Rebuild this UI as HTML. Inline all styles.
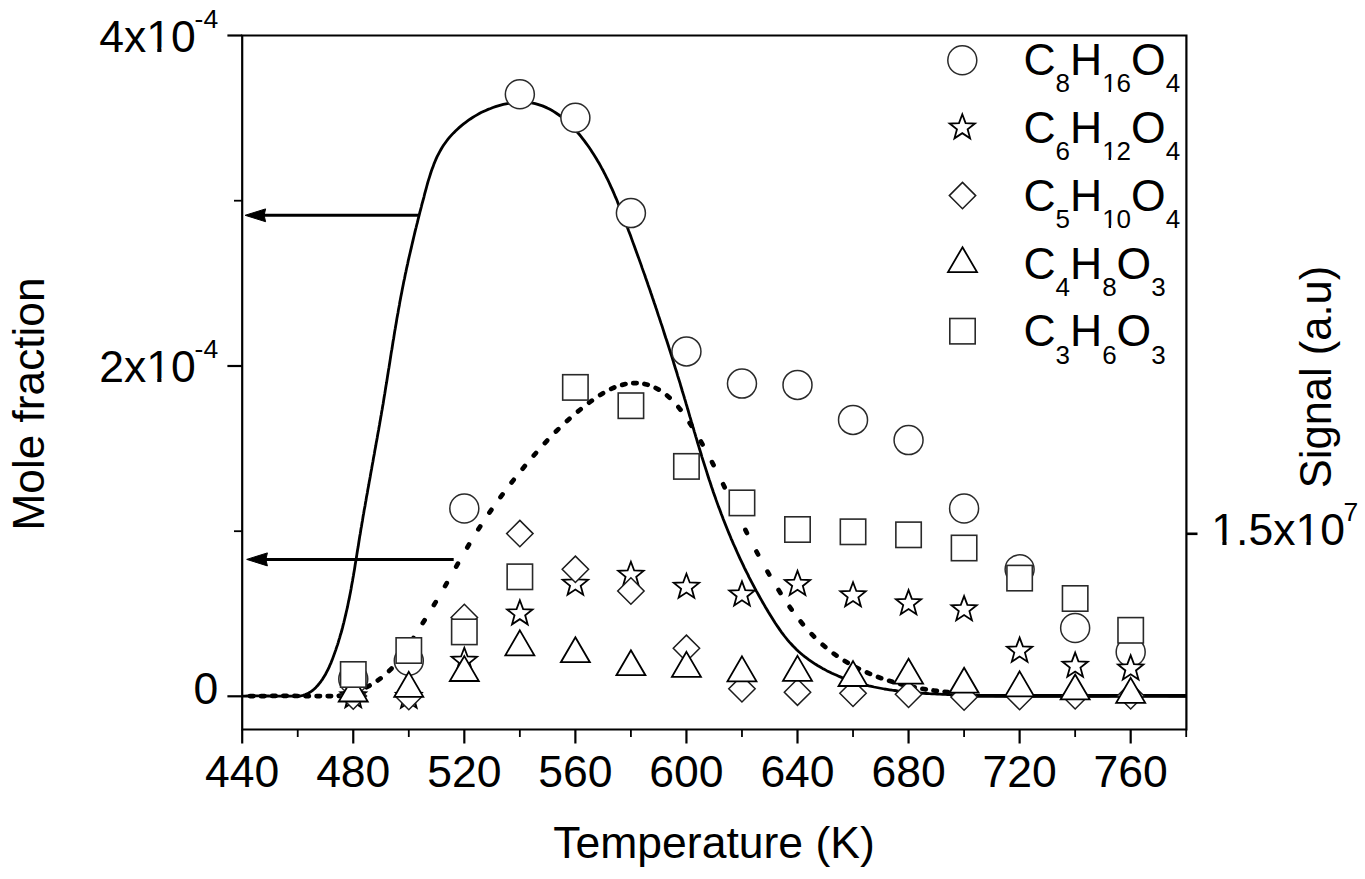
<!DOCTYPE html>
<html><head><meta charset="utf-8"><title>Mole fraction vs Temperature</title>
<style>html,body{margin:0;padding:0;background:#fff;width:1365px;height:879px;overflow:hidden}svg{display:block}text{font-family:"Liberation Sans",sans-serif}</style>
</head><body>
<svg width="1365" height="879" viewBox="0 0 1365 879"><rect width="100%" height="100%" fill="#fff"/><path d="M242.2,696.1L244.9,696.1L247.5,696.0L250.1,696.0L252.8,695.9L255.4,695.9L258.0,695.9L260.7,695.9L263.3,696.0L265.9,696.0L268.6,696.0L271.2,696.1L273.8,696.1L276.5,696.1L279.1,696.1L281.8,696.1L284.5,696.1L287.2,696.1L289.9,696.1L292.6,696.1L295.3,696.1L297.9,696.1L300.5,696.0L303.0,695.4L305.4,694.6L307.7,693.6L309.9,692.3L312.0,690.9L314.0,689.2L315.9,687.4L317.7,685.5L319.4,683.4L321.0,681.3L322.6,679.1L324.0,676.8L325.4,674.5L326.6,672.2L327.8,669.8L329.0,667.4L330.0,665.0L331.1,662.6L332.1,660.1L333.0,657.6L333.9,655.1L334.8,652.6L335.7,650.1L336.5,647.6L337.4,645.1L338.2,642.6L338.9,640.1L339.7,637.6L340.4,635.0L341.2,632.5L341.9,630.0L342.6,627.4L343.2,624.9L343.9,622.3L344.5,619.7L345.1,617.2L345.7,614.6L346.3,612.0L346.9,609.5L347.5,606.9L348.0,604.3L348.5,601.7L349.1,599.2L349.6,596.6L350.1,594.0L350.6,591.4L351.1,588.8L351.5,586.2L352.0,583.6L352.5,581.0L352.9,578.4L353.4,575.8L353.8,573.2L354.3,570.6L354.7,568.0L355.1,565.3L355.5,562.7L356.0,560.1L356.4,557.5L356.8,554.9L357.2,552.3L357.6,549.7L358.1,547.1L358.5,544.5L358.9,541.8L359.3,539.2L359.7,536.6L360.2,534.0L360.6,531.4L361.0,528.8L361.5,526.2L361.9,523.6L362.4,521.0L362.8,518.4L363.2,515.8L363.7,513.2L364.1,510.6L364.6,508.0L365.1,505.4L365.5,502.8L366.0,500.2L366.4,497.6L366.9,495.0L367.4,492.4L367.8,489.8L368.3,487.2L368.8,484.6L369.2,482.0L369.7,479.4L370.2,476.8L370.6,474.2L371.1,471.6L371.6,469.0L372.0,466.4L372.5,463.8L373.0,461.2L373.4,458.6L373.9,456.0L374.4,453.4L374.8,450.8L375.3,448.2L375.8,445.6L376.2,443.0L376.7,440.4L377.2,437.8L377.6,435.2L378.1,432.6L378.6,430.0L379.0,427.4L379.5,424.8L379.9,422.2L380.4,419.6L380.8,417.0L381.3,414.4L381.7,411.8L382.2,409.2L382.6,406.6L383.1,404.0L383.5,401.4L383.9,398.8L384.3,396.2L384.8,393.5L385.2,390.9L385.6,388.3L386.0,385.7L386.5,383.1L386.9,380.5L387.3,377.9L387.7,375.3L388.1,372.7L388.5,370.1L389.0,367.4L389.4,364.8L389.8,362.2L390.2,359.6L390.6,357.0L391.0,354.4L391.4,351.8L391.9,349.2L392.3,346.6L392.7,344.0L393.1,341.3L393.6,338.7L394.0,336.1L394.4,333.5L394.8,330.9L395.3,328.3L395.7,325.7L396.2,323.1L396.6,320.5L397.0,317.9L397.5,315.3L398.0,312.7L398.4,310.1L398.9,307.5L399.4,304.9L399.8,302.3L400.3,299.7L400.8,297.1L401.3,294.5L401.8,291.9L402.3,289.3L402.8,286.8L403.3,284.2L403.8,281.6L404.4,279.0L404.9,276.4L405.4,273.8L406.0,271.3L406.5,268.7L407.1,266.1L407.7,263.5L408.2,260.9L408.8,258.4L409.4,255.8L410.0,253.2L410.6,250.7L411.2,248.1L411.8,245.5L412.4,242.9L413.0,240.4L413.6,237.8L414.2,235.2L414.8,232.7L415.4,230.1L416.1,227.5L416.7,225.0L417.4,222.4L418.0,219.8L418.6,217.3L419.3,214.7L419.9,212.1L420.6,209.6L421.3,207.0L421.9,204.4L422.6,201.9L423.3,199.3L424.0,196.8L424.6,194.2L425.3,191.6L426.0,189.1L426.7,186.5L427.4,183.9L428.1,181.4L428.9,178.9L429.7,176.3L430.5,173.8L431.3,171.3L432.2,168.8L433.1,166.4L434.0,163.9L435.0,161.5L436.0,159.1L437.1,156.7L438.3,154.4L439.5,152.1L440.8,149.8L442.1,147.5L443.5,145.3L445.0,143.2L446.6,141.0L448.2,138.9L449.9,136.9L451.7,134.9L453.6,132.9L455.5,131.0L457.4,129.2L459.4,127.4L461.5,125.6L463.6,123.9L465.7,122.3L467.9,120.7L470.0,119.2L472.2,117.8L474.4,116.4L476.6,115.1L478.9,113.8L481.1,112.6L483.4,111.5L485.8,110.4L488.1,109.4L490.6,108.5L493.0,107.5L495.5,106.7L498.1,105.9L500.7,105.1L503.3,104.4L506.0,103.8L508.8,103.3L511.5,102.8L514.2,102.4L517.0,102.2L519.7,102.0L522.4,102.0L525.0,102.1L527.6,102.3L530.2,102.6L532.7,103.1L535.2,103.6L537.7,104.3L540.1,105.1L542.5,105.9L544.8,106.9L547.1,107.9L549.4,109.1L551.7,110.3L553.9,111.6L556.0,113.0L558.2,114.5L560.3,116.0L562.4,117.6L564.4,119.3L566.4,121.0L568.3,122.8L570.3,124.7L572.2,126.5L574.0,128.5L575.8,130.5L577.6,132.5L579.4,134.5L581.1,136.6L582.8,138.8L584.4,140.9L586.0,143.1L587.6,145.3L589.2,147.5L590.7,149.7L592.1,151.9L593.6,154.2L595.0,156.4L596.4,158.7L597.7,161.0L599.1,163.3L600.4,165.6L601.6,167.9L602.9,170.2L604.1,172.6L605.3,174.9L606.5,177.3L607.7,179.6L608.8,182.0L609.9,184.4L611.0,186.8L612.1,189.2L613.2,191.6L614.2,194.0L615.2,196.4L616.3,198.8L617.3,201.2L618.2,203.7L619.2,206.1L620.2,208.6L621.2,211.0L622.1,213.5L623.1,215.9L624.0,218.4L624.9,220.8L625.9,223.3L626.8,225.8L627.7,228.2L628.6,230.7L629.6,233.2L630.5,235.6L631.4,238.1L632.3,240.6L633.2,243.1L634.1,245.5L635.0,248.0L635.9,250.5L636.8,253.0L637.7,255.4L638.6,257.9L639.5,260.4L640.4,262.9L641.3,265.4L642.1,267.9L643.0,270.4L643.9,272.9L644.8,275.3L645.6,277.8L646.5,280.3L647.4,282.8L648.2,285.3L649.1,287.8L650.0,290.3L650.8,292.8L651.7,295.3L652.5,297.8L653.4,300.3L654.2,302.8L655.1,305.3L655.9,307.8L656.8,310.3L657.6,312.9L658.4,315.4L659.3,317.9L660.1,320.4L660.9,322.9L661.8,325.4L662.6,327.9L663.4,330.4L664.2,333.0L665.0,335.5L665.8,338.0L666.7,340.5L667.5,343.0L668.3,345.5L669.1,348.1L669.9,350.6L670.7,353.1L671.5,355.6L672.3,358.2L673.1,360.7L673.8,363.2L674.6,365.7L675.4,368.3L676.2,370.8L677.0,373.3L677.7,375.8L678.5,378.4L679.3,380.9L680.1,383.4L680.8,386.0L681.6,388.5L682.3,391.0L683.1,393.6L683.9,396.1L684.6,398.6L685.4,401.2L686.1,403.7L686.9,406.2L687.6,408.8L688.4,411.3L689.1,413.8L689.8,416.4L690.6,418.9L691.3,421.4L692.1,424.0L692.8,426.5L693.6,429.0L694.3,431.6L695.1,434.1L695.8,436.6L696.6,439.2L697.3,441.7L698.1,444.2L698.9,446.8L699.6,449.3L700.4,451.8L701.2,454.3L701.9,456.8L702.7,459.4L703.5,461.9L704.3,464.4L705.1,466.9L705.9,469.4L706.7,471.9L707.5,474.5L708.3,477.0L709.1,479.5L710.0,482.0L710.8,484.5L711.6,487.0L712.5,489.5L713.3,492.0L714.2,494.5L715.1,496.9L715.9,499.4L716.8,501.9L717.7,504.4L718.6,506.9L719.6,509.3L720.5,511.8L721.4,514.3L722.4,516.7L723.3,519.2L724.3,521.7L725.2,524.1L726.2,526.6L727.2,529.0L728.2,531.5L729.2,533.9L730.2,536.3L731.2,538.8L732.3,541.2L733.3,543.6L734.4,546.0L735.5,548.4L736.5,550.8L737.6,553.3L738.7,555.7L739.8,558.1L740.9,560.4L742.1,562.8L743.2,565.2L744.3,567.6L745.5,570.0L746.7,572.3L747.9,574.7L749.0,577.1L750.2,579.4L751.5,581.8L752.7,584.1L753.9,586.4L755.2,588.8L756.4,591.1L757.7,593.4L759.0,595.7L760.3,598.1L761.6,600.4L762.9,602.7L764.2,604.9L765.5,607.2L766.9,609.5L768.2,611.8L769.6,614.1L771.0,616.3L772.4,618.6L773.8,620.8L775.2,623.0L776.7,625.2L778.2,627.4L779.7,629.6L781.2,631.8L782.8,633.9L784.4,636.0L786.0,638.0L787.7,640.1L789.4,642.1L791.2,644.0L793.0,646.0L794.8,647.8L796.7,649.7L798.6,651.5L800.6,653.2L802.7,655.0L804.7,656.6L806.8,658.2L809.0,659.8L811.2,661.3L813.4,662.8L815.6,664.3L817.9,665.7L820.2,667.0L822.5,668.4L824.8,669.6L827.1,670.9L829.5,672.0L831.9,673.2L834.3,674.3L836.7,675.3L839.1,676.4L841.5,677.4L843.9,678.3L846.4,679.2L848.8,680.1L851.3,680.9L853.8,681.7L856.3,682.5L858.8,683.2L861.3,683.9L863.9,684.6L866.4,685.2L868.9,685.9L871.5,686.4L874.1,687.0L876.6,687.5L879.2,688.0L881.8,688.5L884.4,689.0L887.0,689.4L889.6,689.8L892.2,690.2L894.8,690.5L897.5,690.9L900.1,691.2L902.7,691.5L905.4,691.8L908.0,692.0L910.6,692.3L913.3,692.5L916.0,692.7L918.6,693.0L921.3,693.1L923.9,693.3L926.6,693.5L929.3,693.7L931.9,693.8L934.6,693.9L937.2,694.1L939.9,694.2L942.6,694.3L945.2,694.4L947.9,694.5L950.6,694.6L953.2,694.7L955.9,694.8L958.5,694.9L961.2,695.0L963.8,695.1L966.5,695.1L969.1,695.2L971.8,695.3L974.4,695.4L977.1,695.4L979.7,695.5L982.4,695.5L985.0,695.6L987.7,695.6L990.3,695.7L992.9,695.7L995.6,695.8L998.2,695.8L1000.9,695.9L1003.5,695.9L1006.1,695.9L1008.8,696.0L1011.4,696.0L1014.0,696.0L1016.7,696.0L1019.3,696.0L1021.9,696.1L1024.6,696.1L1027.2,696.1L1029.8,696.1L1032.4,696.1L1035.1,696.1L1037.7,696.1L1040.3,696.1L1043.0,696.1L1045.6,696.1L1048.2,696.1L1050.8,696.1L1053.5,696.1L1056.1,696.1L1058.7,696.1L1061.4,696.1L1064.0,696.1L1066.6,696.1L1069.2,696.1L1071.9,696.1L1074.5,696.1L1077.1,696.1L1079.7,696.1L1082.4,696.1L1085.0,696.1L1087.6,696.0L1090.3,696.0L1092.9,696.0L1095.5,696.0L1098.2,696.0L1100.8,696.0L1103.4,696.0L1106.1,696.0L1108.7,696.0L1111.3,695.9L1114.0,695.9L1116.6,695.9L1119.2,695.9L1121.9,695.9L1124.5,695.9L1127.2,695.9L1129.8,695.9L1132.4,695.9L1135.1,695.9L1137.7,695.9L1140.4,695.9L1143.0,695.9L1145.7,695.9L1148.3,695.9L1151.0,695.9L1153.6,695.9L1156.3,695.9L1158.9,695.9L1161.6,695.9L1164.2,695.9L1166.9,695.9L1169.6,696.0L1172.2,696.0L1174.9,696.0L1177.5,696.0L1180.2,696.1L1182.9,696.1L1185.6,696.1L1186.4,696.1" fill="none" stroke="#000" stroke-width="2.8" stroke-linejoin="round"/><path d="M250.00,696.10L253.40,696.10M261.10,696.10L264.50,696.06M272.20,695.96L275.60,695.92M283.30,695.86L286.70,695.86M294.40,695.93L297.80,696.00M305.50,696.10L308.90,696.10M316.60,696.10L320.00,696.10M327.70,696.10L331.10,696.10M338.82,695.83L342.18,695.31M349.97,693.57L353.23,692.61M366.60,687.17L369.60,685.58M377.83,680.42L380.57,678.41M389.13,670.98L391.51,668.55M400.45,657.65L402.43,654.89M411.65,640.80L413.47,637.92M422.78,623.12L424.58,620.24M433.92,605.05L435.68,602.13M445.07,586.07L446.77,583.12M456.20,566.59L457.88,563.64M467.29,547.43L469.03,544.51M478.36,529.32L480.20,526.45M489.43,512.61L491.37,509.81M500.51,497.10L502.53,494.37M511.59,482.52L513.69,479.85M522.68,468.69L524.84,466.06M533.77,455.49L535.99,452.92M544.84,443.06L547.16,440.57M555.91,431.52L558.33,429.13M566.98,420.97L569.50,418.70M578.04,411.41L580.68,409.26M589.11,402.73L591.85,400.71M600.16,394.96L603.04,393.17M611.16,388.83L614.28,387.48M622.18,384.85L625.50,384.08M633.26,383.10L636.66,383.05M644.43,383.91L647.73,384.74M655.71,387.98L658.69,389.62M667.04,395.55L669.60,397.78M678.38,407.10L680.50,409.76M689.65,422.92L691.47,425.79M700.84,441.49L702.52,444.45M712.02,462.10L713.58,465.12M723.17,484.32L724.67,487.38M734.30,507.29L735.78,510.35M745.40,529.92L746.92,532.96M756.48,551.50L758.08,554.50M767.55,571.61L769.25,574.56M778.61,590.09L780.43,592.96M789.66,606.83L791.62,609.61M800.68,621.57L802.84,624.21M811.70,634.21L814.06,636.66M822.71,644.83L825.29,647.04M833.73,653.63L836.51,655.60M844.78,661.00L847.70,662.74M855.84,667.23L858.88,668.77M866.92,672.53L870.04,673.87M878.00,677.03L881.20,678.19M889.09,680.84L892.35,681.84M900.19,684.04L903.49,684.87M911.30,686.67L914.62,687.36M922.40,688.79L925.76,689.34M933.51,690.48L936.89,690.91M944.63,691.79L948.01,692.13" fill="none" stroke="#000" stroke-width="4.7" stroke-linecap="round"/><path d="M958,695.9 H1186" stroke="#000" stroke-width="3.6" fill="none"/><line x1="263.6" y1="215.3" x2="419.3" y2="215.3" stroke="#000" stroke-width="3"/><path d="M245.1,215.3 L265.6,208.9 L264.1,215.3 L265.6,221.70000000000002 Z" fill="#000" stroke="#000" stroke-width="1" stroke-linejoin="round"/><line x1="265.4" y1="559.4" x2="453.7" y2="559.4" stroke="#000" stroke-width="3"/><path d="M246.7,559.4 L267.4,552.9 L265.9,559.4 L267.4,565.9 Z" fill="#000" stroke="#000" stroke-width="1" stroke-linejoin="round"/><g fill="#fff" stroke="#2a2a2a" stroke-width="1.5" stroke-linejoin="miter"><circle cx="353.26" cy="679.00" r="14.5"/><circle cx="408.79" cy="660.80" r="14.5"/><circle cx="464.32" cy="508.50" r="14.5"/><circle cx="519.85" cy="94.30" r="14.5"/><circle cx="575.38" cy="117.80" r="14.5"/><circle cx="630.91" cy="213.10" r="14.5"/><circle cx="686.44" cy="351.40" r="14.5"/><circle cx="741.97" cy="383.60" r="14.5"/><circle cx="797.50" cy="384.90" r="14.5"/><circle cx="853.03" cy="419.90" r="14.5"/><circle cx="908.56" cy="440.10" r="14.5"/><circle cx="964.09" cy="508.50" r="14.5"/><circle cx="1019.62" cy="569.30" r="14.5"/><circle cx="1075.15" cy="628.00" r="14.5"/><circle cx="1130.68" cy="652.00" r="14.5"/></g><g fill="#fff" stroke="#000" stroke-width="1.8" stroke-linejoin="miter"><path d="M353.26,683.00L356.55,691.77L365.91,692.19L358.59,698.03L361.08,707.06L353.26,701.90L345.44,707.06L347.93,698.03L340.61,692.19L349.97,691.77Z"/><path d="M408.79,683.70L412.08,692.47L421.44,692.89L414.12,698.73L416.61,707.76L408.79,702.60L400.97,707.76L403.46,698.73L396.14,692.89L405.50,692.47Z"/><path d="M464.32,647.70L467.61,656.47L476.97,656.89L469.65,662.73L472.14,671.76L464.32,666.60L456.50,671.76L458.99,662.73L451.67,656.89L461.03,656.47Z"/><path d="M519.85,600.30L523.14,609.07L532.50,609.49L525.18,615.33L527.67,624.36L519.85,619.20L512.03,624.36L514.52,615.33L507.20,609.49L516.56,609.07Z"/><path d="M575.38,570.70L578.67,579.47L588.03,579.89L580.71,585.73L583.20,594.76L575.38,589.60L567.56,594.76L570.05,585.73L562.73,579.89L572.09,579.47Z"/><path d="M630.91,561.70L634.20,570.47L643.56,570.89L636.24,576.73L638.73,585.76L630.91,580.60L623.09,585.76L625.58,576.73L618.26,570.89L627.62,570.47Z"/><path d="M686.44,573.70L689.73,582.47L699.09,582.89L691.77,588.73L694.26,597.76L686.44,592.60L678.62,597.76L681.11,588.73L673.79,582.89L683.15,582.47Z"/><path d="M741.97,581.40L745.26,590.17L754.62,590.59L747.30,596.43L749.79,605.46L741.97,600.30L734.15,605.46L736.64,596.43L729.32,590.59L738.68,590.17Z"/><path d="M797.50,570.90L800.79,579.67L810.15,580.09L802.83,585.93L805.32,594.96L797.50,589.80L789.68,594.96L792.17,585.93L784.85,580.09L794.21,579.67Z"/><path d="M853.03,582.20L856.32,590.97L865.68,591.39L858.36,597.23L860.85,606.26L853.03,601.10L845.21,606.26L847.70,597.23L840.38,591.39L849.74,590.97Z"/><path d="M908.56,590.10L911.85,598.87L921.21,599.29L913.89,605.13L916.38,614.16L908.56,609.00L900.74,614.16L903.23,605.13L895.91,599.29L905.27,598.87Z"/><path d="M964.09,596.10L967.38,604.87L976.74,605.29L969.42,611.13L971.91,620.16L964.09,615.00L956.27,620.16L958.76,611.13L951.44,605.29L960.80,604.87Z"/><path d="M1019.62,637.60L1022.91,646.37L1032.27,646.79L1024.95,652.63L1027.44,661.66L1019.62,656.50L1011.80,661.66L1014.29,652.63L1006.97,646.79L1016.33,646.37Z"/><path d="M1075.15,652.60L1078.44,661.37L1087.80,661.79L1080.48,667.63L1082.97,676.66L1075.15,671.50L1067.33,676.66L1069.82,667.63L1062.50,661.79L1071.86,661.37Z"/><path d="M1130.68,655.40L1133.97,664.17L1143.33,664.59L1136.01,670.43L1138.50,679.46L1130.68,674.30L1122.86,679.46L1125.35,670.43L1118.03,664.59L1127.39,664.17Z"/></g><g fill="#fff" stroke="#1c1c1c" stroke-width="1.5" stroke-linejoin="miter"><path d="M353.26,682.80L366.46,696.00L353.26,709.20L340.06,696.00Z"/><path d="M408.79,683.30L421.99,696.50L408.79,709.70L395.59,696.50Z"/><path d="M464.32,604.30L477.52,617.50L464.32,630.70L451.12,617.50Z"/><path d="M519.85,520.40L533.05,533.60L519.85,546.80L506.65,533.60Z"/><path d="M575.38,556.10L588.58,569.30L575.38,582.50L562.18,569.30Z"/><path d="M630.91,577.80L644.11,591.00L630.91,604.20L617.71,591.00Z"/><path d="M686.44,635.10L699.64,648.30L686.44,661.50L673.24,648.30Z"/><path d="M741.97,675.60L755.17,688.80L741.97,702.00L728.77,688.80Z"/><path d="M797.50,679.00L810.70,692.20L797.50,705.40L784.30,692.20Z"/><path d="M853.03,680.10L866.23,693.30L853.03,706.50L839.83,693.30Z"/><path d="M908.56,681.10L921.76,694.30L908.56,707.50L895.36,694.30Z"/><path d="M964.09,683.80L977.29,697.00L964.09,710.20L950.89,697.00Z"/><path d="M1019.62,683.40L1032.82,696.60L1019.62,709.80L1006.42,696.60Z"/><path d="M1075.15,682.60L1088.35,695.80L1075.15,709.00L1061.95,695.80Z"/><path d="M1130.68,682.60L1143.88,695.80L1130.68,709.00L1117.48,695.80Z"/></g><g fill="#fff" stroke="#000" stroke-width="1.8" stroke-linejoin="miter"><path d="M353.26,676.60L367.76,701.50L338.76,701.50Z"/><path d="M408.79,671.90L423.29,696.80L394.29,696.80Z"/><path d="M464.32,656.10L478.82,681.00L449.82,681.00Z"/><path d="M519.85,630.40L534.35,655.30L505.35,655.30Z"/><path d="M575.38,637.30L589.88,662.20L560.88,662.20Z"/><path d="M630.91,650.30L645.41,675.20L616.41,675.20Z"/><path d="M686.44,651.90L700.94,676.80L671.94,676.80Z"/><path d="M741.97,656.40L756.47,681.30L727.47,681.30Z"/><path d="M797.50,655.90L812.00,680.80L783.00,680.80Z"/><path d="M853.03,661.10L867.53,686.00L838.53,686.00Z"/><path d="M908.56,658.70L923.06,683.60L894.06,683.60Z"/><path d="M964.09,667.80L978.59,692.70L949.59,692.70Z"/><path d="M1019.62,671.40L1034.12,696.30L1005.12,696.30Z"/><path d="M1075.15,674.50L1089.65,699.40L1060.65,699.40Z"/><path d="M1130.68,677.90L1145.18,702.80L1116.18,702.80Z"/></g><g fill="#fff" stroke="#2a2a2a" stroke-width="1.6" stroke-linejoin="miter"><rect x="340.56" y="661.80" width="25.4" height="25.4"/><rect x="396.09" y="637.80" width="25.4" height="25.4"/><rect x="451.62" y="619.20" width="25.4" height="25.4"/><rect x="507.15" y="564.10" width="25.4" height="25.4"/><rect x="562.68" y="374.70" width="25.4" height="25.4"/><rect x="618.21" y="393.00" width="25.4" height="25.4"/><rect x="673.74" y="453.70" width="25.4" height="25.4"/><rect x="729.27" y="490.20" width="25.4" height="25.4"/><rect x="784.80" y="516.80" width="25.4" height="25.4"/><rect x="840.33" y="519.10" width="25.4" height="25.4"/><rect x="895.86" y="522.10" width="25.4" height="25.4"/><rect x="951.39" y="535.30" width="25.4" height="25.4"/><rect x="1006.92" y="565.40" width="25.4" height="25.4"/><rect x="1062.45" y="585.80" width="25.4" height="25.4"/><rect x="1117.98" y="617.60" width="25.4" height="25.4"/></g><g stroke="#000" stroke-width="2.2" fill="none" stroke-linecap="butt"><path d="M242.2,35.5 H1186.4 V729.5 H242.2 Z"/><line x1="227.4" y1="35.5" x2="242.2" y2="35.5"/><line x1="227.4" y1="366" x2="242.2" y2="366"/><line x1="227.4" y1="696.3" x2="242.2" y2="696.3"/><line x1="234" y1="200.7" x2="242.2" y2="200.7" stroke-width="1.8"/><line x1="234" y1="531.2" x2="242.2" y2="531.2" stroke-width="1.8"/><line x1="242.20" y1="729.5" x2="242.20" y2="743.5"/><line x1="297.73" y1="729.5" x2="297.73" y2="737" stroke-width="1.8"/><line x1="353.26" y1="729.5" x2="353.26" y2="743.5"/><line x1="408.79" y1="729.5" x2="408.79" y2="737" stroke-width="1.8"/><line x1="464.32" y1="729.5" x2="464.32" y2="743.5"/><line x1="519.85" y1="729.5" x2="519.85" y2="737" stroke-width="1.8"/><line x1="575.38" y1="729.5" x2="575.38" y2="743.5"/><line x1="630.91" y1="729.5" x2="630.91" y2="737" stroke-width="1.8"/><line x1="686.44" y1="729.5" x2="686.44" y2="743.5"/><line x1="741.97" y1="729.5" x2="741.97" y2="737" stroke-width="1.8"/><line x1="797.50" y1="729.5" x2="797.50" y2="743.5"/><line x1="853.03" y1="729.5" x2="853.03" y2="737" stroke-width="1.8"/><line x1="908.56" y1="729.5" x2="908.56" y2="743.5"/><line x1="964.09" y1="729.5" x2="964.09" y2="737" stroke-width="1.8"/><line x1="1019.62" y1="729.5" x2="1019.62" y2="743.5"/><line x1="1075.15" y1="729.5" x2="1075.15" y2="737" stroke-width="1.8"/><line x1="1130.68" y1="729.5" x2="1130.68" y2="743.5"/><line x1="1186.21" y1="729.5" x2="1186.21" y2="737" stroke-width="1.8"/><line x1="1186.4" y1="533.8" x2="1197.5" y2="533.8" stroke-width="2.6"/></g><g font-family="Liberation Sans, sans-serif" fill="#000"><text x="242.20" y="786.6" font-size="44.5" text-anchor="middle">440</text><text x="353.26" y="786.6" font-size="44.5" text-anchor="middle">480</text><text x="464.32" y="786.6" font-size="44.5" text-anchor="middle">520</text><text x="575.38" y="786.6" font-size="44.5" text-anchor="middle">560</text><text x="686.44" y="786.6" font-size="44.5" text-anchor="middle">600</text><text x="797.50" y="786.6" font-size="44.5" text-anchor="middle">640</text><text x="908.56" y="786.6" font-size="44.5" text-anchor="middle">680</text><text x="1019.62" y="786.6" font-size="44.5" text-anchor="middle">720</text><text x="1130.68" y="786.6" font-size="44.5" text-anchor="middle">760</text><text x="99.2" y="51.6" font-size="44.5">4x10</text><text x="194.6" y="27.5" font-size="26.5">-4</text><text x="99.2" y="382" font-size="44.5">2x10</text><text x="194.6" y="357.9" font-size="26.5">-4</text><text x="193.6" y="703.8" font-size="44.5">0</text><text x="714" y="857.7" font-size="44.5" text-anchor="middle">Temperature (K)</text><text transform="translate(43.8,404) rotate(-90)" font-size="44.2" text-anchor="middle">Mole fraction</text><text transform="translate(1330.5,377) rotate(-90)" font-size="43.5" text-anchor="middle">Signal (a.u)</text><text x="1211.3" y="544.5" font-size="44.5">1.5x10</text><text x="1343.4" y="520.8" font-size="26.5">7</text><text x="1023.4" y="74.9" font-size="44.5"><tspan>C</tspan><tspan font-size="26" dy="17.2">8</tspan><tspan dy="-17.2">H</tspan><tspan font-size="26" dy="17.2">16</tspan><tspan dy="-17.2">O</tspan><tspan font-size="26" dy="17.2">4</tspan></text><text x="1023.4" y="142.8" font-size="44.5"><tspan>C</tspan><tspan font-size="26" dy="17.2">6</tspan><tspan dy="-17.2">H</tspan><tspan font-size="26" dy="17.2">12</tspan><tspan dy="-17.2">O</tspan><tspan font-size="26" dy="17.2">4</tspan></text><text x="1023.4" y="210.6" font-size="44.5"><tspan>C</tspan><tspan font-size="26" dy="17.2">5</tspan><tspan dy="-17.2">H</tspan><tspan font-size="26" dy="17.2">10</tspan><tspan dy="-17.2">O</tspan><tspan font-size="26" dy="17.2">4</tspan></text><text x="1023.4" y="278.6" font-size="44.5"><tspan>C</tspan><tspan font-size="26" dy="17.2">4</tspan><tspan dy="-17.2">H</tspan><tspan font-size="26" dy="17.2">8</tspan><tspan dy="-17.2">O</tspan><tspan font-size="26" dy="17.2">3</tspan></text><text x="1023.4" y="346.3" font-size="44.5"><tspan>C</tspan><tspan font-size="26" dy="17.2">3</tspan><tspan dy="-17.2">H</tspan><tspan font-size="26" dy="17.2">6</tspan><tspan dy="-17.2">O</tspan><tspan font-size="26" dy="17.2">3</tspan></text></g><rect x="148.37" y="47.58" width="8.91" height="4.89" fill="#fff"/><rect x="161.43" y="47.58" width="8.67" height="4.89" fill="#fff"/><rect x="148.37" y="377.98" width="8.91" height="4.89" fill="#fff"/><rect x="161.43" y="377.98" width="8.67" height="4.89" fill="#fff"/><rect x="1213.47" y="540.48" width="8.91" height="4.89" fill="#fff"/><rect x="1226.53" y="540.48" width="8.67" height="4.89" fill="#fff"/><rect x="1297.58" y="540.48" width="8.91" height="4.89" fill="#fff"/><rect x="1310.64" y="540.48" width="8.67" height="4.89" fill="#fff"/><rect x="1103.40" y="89.75" width="5.21" height="2.86" fill="#fff"/><rect x="1111.03" y="89.75" width="5.07" height="2.86" fill="#fff"/><rect x="1103.40" y="157.65" width="5.21" height="2.86" fill="#fff"/><rect x="1111.03" y="157.65" width="5.07" height="2.86" fill="#fff"/><rect x="1103.40" y="225.45" width="5.21" height="2.86" fill="#fff"/><rect x="1111.03" y="225.45" width="5.07" height="2.86" fill="#fff"/><g fill="#fff" stroke="#2a2a2a" stroke-width="1.5"><circle cx="962.30" cy="60.30" r="14.5"/></g><g fill="#fff" stroke="#000" stroke-width="1.8"><path d="M962.30,114.30L965.59,123.07L974.95,123.49L967.63,129.33L970.12,138.36L962.30,133.20L954.48,138.36L956.97,129.33L949.65,123.49L959.01,123.07Z"/></g><g fill="#fff" stroke="#1c1c1c" stroke-width="1.5"><path d="M962.50,182.40L975.70,195.60L962.50,208.80L949.30,195.60Z"/></g><g fill="#fff" stroke="#000" stroke-width="1.8"><path d="M962.50,247.20L977.00,272.10L948.00,272.10Z"/></g><g fill="#fff" stroke="#2a2a2a" stroke-width="1.6"><rect x="949.80" y="318.50" width="25.4" height="25.4"/></g></svg>
</body></html>
